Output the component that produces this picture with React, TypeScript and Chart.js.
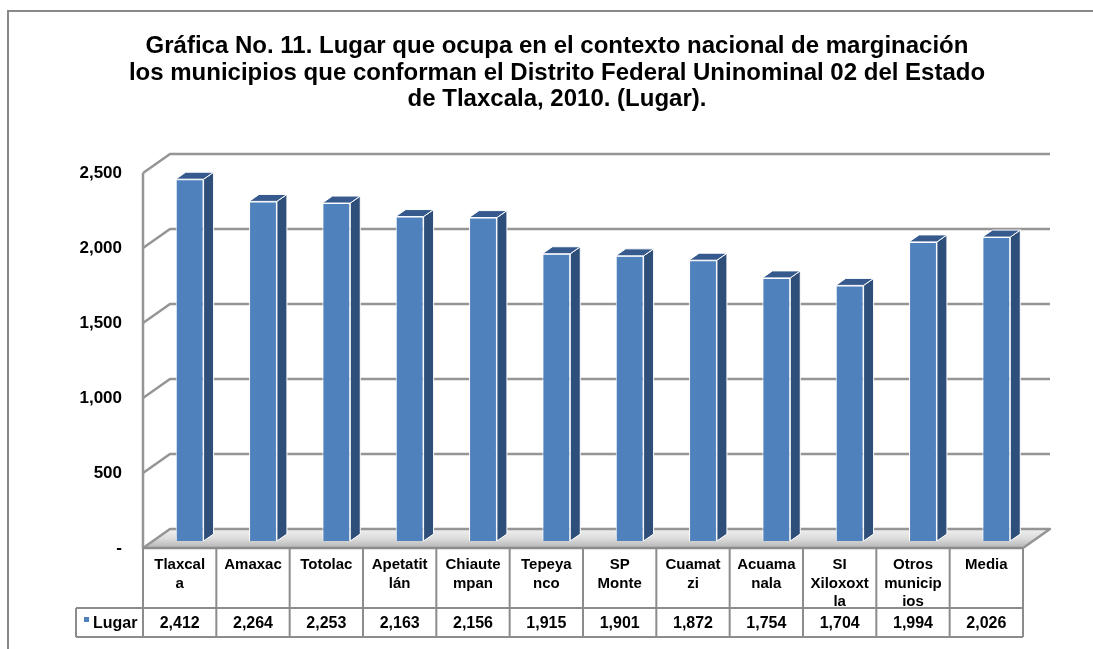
import React, { useEffect, useRef } from 'react';
import { Chart, registerables } from 'chart.js';

Chart.register(...registerables);

// ---------- data ----------
const titleLines: string[] = [
  'Gráfica No. 11. Lugar que ocupa en el contexto nacional de marginación',
  'los municipios que conforman el Distrito Federal Uninominal 02 del Estado',
  'de Tlaxcala, 2010. (Lugar).',
];

const categories: string[] = [
  'Tlaxcala', 'Amaxac', 'Totolac', 'Apetatitlán', 'Chiautempan', 'Tepeyanco',
  'SP Monte', 'Cuamatzi', 'Acuamanala', 'SI Xiloxoxtla', 'Otros municipios', 'Media',
];

// category labels as they wrap in the data table
const categoryLines: string[][] = [
  ['Tlaxcal', 'a'],
  ['Amaxac'],
  ['Totolac'],
  ['Apetatit', 'lán'],
  ['Chiaute', 'mpan'],
  ['Tepeya', 'nco'],
  ['SP', 'Monte'],
  ['Cuamat', 'zi'],
  ['Acuama', 'nala'],
  ['SI', 'Xiloxoxt', 'la'],
  ['Otros', 'municip', 'ios'],
  ['Media'],
];

const seriesName = 'Lugar';
const lugar: number[] = [2412, 2264, 2253, 2163, 2156, 1915, 1901, 1872, 1754, 1704, 1994, 2026];

const yMin = 0;
const yMax = 2500;
const yStep = 500;

// ---------- styles ----------
const FONT = '"Liberation Sans", Arial, Helvetica, sans-serif';
const BAR_FRONT = '#4F81BD';
const BAR_SIDE = '#2E4F7A';
const BAR_TOP = '#365A8E';
const GRID = '#959595';
const TABLE_LINE = '#8c8c8c';
const FRONT = { dx: -10, dy: 7 };
const BACK = { dx: 17, dy: -12 };
const DEPTH = { dx: 10, dy: -7 };

const fmt = (v: number) => (v === 0 ? '-' : v.toLocaleString('en-US'));

const threeD = {
  id: 'threeD',
  beforeDatasetsDraw(chart: any) {
    const { ctx, chartArea } = chart;
    const { left, right, top, bottom } = chartArea;
    const ys = chart.scales.y;
    ctx.save();
    // floor
    const fl = [
      [left + FRONT.dx, bottom + FRONT.dy],
      [right + FRONT.dx, bottom + FRONT.dy],
      [right + BACK.dx, bottom + BACK.dy],
      [left + BACK.dx, bottom + BACK.dy],
    ];
    const g = ctx.createLinearGradient(0, bottom + BACK.dy, 0, bottom + FRONT.dy);
    g.addColorStop(0, '#f0f0f0');
    g.addColorStop(0.5, '#dcdcdc');
    g.addColorStop(1, '#b4b4b4');
    ctx.beginPath();
    fl.forEach((p, i) => (i ? ctx.lineTo(p[0], p[1]) : ctx.moveTo(p[0], p[1])));
    ctx.closePath();
    ctx.fillStyle = g;
    ctx.fill();
    ctx.strokeStyle = GRID;
    ctx.lineWidth = 2.5;
    ctx.lineJoin = 'round';
    ctx.stroke();

    // gridlines (side wall oblique + back wall horizontal)
    ys.ticks.forEach((t: any) => {
      if (t.value <= yMin) return;
      const y = ys.getPixelForValue(t.value);
      ctx.beginPath();
      ctx.moveTo(left + FRONT.dx, y + FRONT.dy);
      ctx.lineTo(left + BACK.dx, y + BACK.dy);
      ctx.lineTo(right + BACK.dx, y + BACK.dy);
      ctx.strokeStyle = GRID;
      ctx.lineWidth = 2.5;
      ctx.stroke();
    });
    // front-left vertical edge
    ctx.beginPath();
    ctx.moveTo(left + FRONT.dx, top + FRONT.dy);
    ctx.lineTo(left + FRONT.dx, bottom + FRONT.dy);
    ctx.strokeStyle = GRID;
    ctx.lineWidth = 2.5;
    ctx.stroke();
    ctx.restore();
  },
  afterDatasetsDraw(chart: any) {
    const { ctx } = chart;
    const meta = chart.getDatasetMeta(0);
    ctx.save();
    ctx.lineWidth = 1;
    ctx.strokeStyle = '#ffffff';
    meta.data.forEach((bar: any) => {
      const { x, y, width, base } = bar.getProps(['x', 'y', 'width', 'base'], true);
      const l = x - width / 2;
      const r = x + width / 2;
      // side face
      ctx.beginPath();
      ctx.moveTo(r, y);
      ctx.lineTo(r + DEPTH.dx, y + DEPTH.dy);
      ctx.lineTo(r + DEPTH.dx, base + DEPTH.dy);
      ctx.lineTo(r, base);
      ctx.closePath();
      ctx.fillStyle = BAR_SIDE;
      ctx.fill();
      ctx.stroke();
      // top face
      ctx.beginPath();
      ctx.moveTo(l, y);
      ctx.lineTo(l + DEPTH.dx, y + DEPTH.dy);
      ctx.lineTo(r + DEPTH.dx, y + DEPTH.dy);
      ctx.lineTo(r, y);
      ctx.closePath();
      ctx.fillStyle = BAR_TOP;
      ctx.fill();
      ctx.stroke();
    });
    ctx.restore();
  },
  afterDraw(chart: any) {
    const { ctx, chartArea } = chart;
    const { left, right, bottom } = chartArea;
    const xs = chart.scales.x;
    ctx.save();

    // title
    ctx.fillStyle = '#000';
    ctx.textAlign = 'center';
    ctx.textBaseline = 'alphabetic';
    ctx.font = `bold 24px ${FONT}`;
    titleLines.forEach((line, i) => ctx.fillText(line, 557, 53 + i * 26.5));

    // data table
    const n = categories.length;
    const colW = (right - left) / n;
    const tTop = bottom + FRONT.dy;
    const hRow = 60;
    const vRow = 29;
    const legendLeft = 76;
    const x0 = left + FRONT.dx;
    const x1 = right + FRONT.dx;
    ctx.strokeStyle = TABLE_LINE;
    ctx.lineWidth = 2;
    ctx.beginPath();
    ctx.moveTo(x0, tTop);
    ctx.lineTo(x1, tTop);
    ctx.moveTo(legendLeft, tTop + hRow);
    ctx.lineTo(x1, tTop + hRow);
    ctx.moveTo(legendLeft, tTop + hRow + vRow);
    ctx.lineTo(x1, tTop + hRow + vRow);
    ctx.moveTo(legendLeft, tTop + hRow);
    ctx.lineTo(legendLeft, tTop + hRow + vRow);
    for (let i = 0; i <= n; i++) {
      const cx = i < n ? xs.getPixelForValue(i) - colW / 2 + FRONT.dx : x1;
      ctx.moveTo(cx, tTop);
      ctx.lineTo(cx, tTop + hRow + vRow);
    }
    ctx.stroke();

    ctx.fillStyle = '#000';
    ctx.textAlign = 'center';
    for (let i = 0; i < n; i++) {
      const cx = xs.getPixelForValue(i) + FRONT.dx;
      ctx.font = `bold 15px ${FONT}`;
      categoryLines[i].forEach((ln, j) => ctx.fillText(ln, cx, tTop + 21 + j * 18.5));
      ctx.font = `bold 16px ${FONT}`;
      ctx.fillText(fmt(lugar[i]), cx, tTop + hRow + 20);
    }
    // legend key
    ctx.fillStyle = BAR_FRONT;
    ctx.fillRect(84, tTop + hRow + 9, 5, 5);
    ctx.fillStyle = '#000';
    ctx.textAlign = 'left';
    ctx.font = `bold 16px ${FONT}`;
    ctx.fillText(seriesName, 93, tTop + hRow + 20);

    // outer border
    ctx.strokeStyle = '#888888';
    ctx.lineWidth = 2;
    ctx.beginPath();
    ctx.moveTo(8, 649);
    ctx.lineTo(8, 11);
    ctx.lineTo(1093, 11);
    ctx.stroke();
    ctx.restore();
  },
};

export default function App() {
  const ref = useRef<HTMLCanvasElement | null>(null);
  useEffect(() => {
    document.body.style.margin = '0';
    if (!ref.current) return;
    const chart = new Chart(ref.current, {
      type: 'bar',
      data: {
        labels: categories,
        datasets: [
          {
            label: seriesName,
            data: lugar,
            backgroundColor: BAR_FRONT,
            borderColor: '#ffffff',
            borderWidth: 1,
            barPercentage: 0.38,
            categoryPercentage: 1,
          },
        ],
      },
      options: {
        responsive: false,
        animation: false,
        devicePixelRatio: 1,
        layout: { padding: { left: 0, top: 166, right: 60, bottom: 108 } },
        plugins: {
          legend: { display: false },
          title: { display: false },
          tooltip: { enabled: false },
        },
        scales: {
          x: { display: false },
          y: {
            min: yMin,
            max: yMax,
            afterFit: (s: any) => {
              s.width = 153;
            },
            grid: { display: false, drawTicks: false },
            border: { display: false },
            ticks: {
              stepSize: yStep,
              padding: 31,
              labelOffset: 7,
              color: '#000',
              font: { family: FONT, size: 17, weight: 'bold' },
              callback: (v: any) => fmt(Number(v)),
            },
          },
        },
      } as any,
      plugins: [threeD],
    });
    return () => chart.destroy();
  }, []);
  return (
    <div style={{ width: 1093, height: 649, background: '#fff' }}>
      <canvas ref={ref} width={1093} height={649} style={{ display: 'block' }} />
    </div>
  );
}
